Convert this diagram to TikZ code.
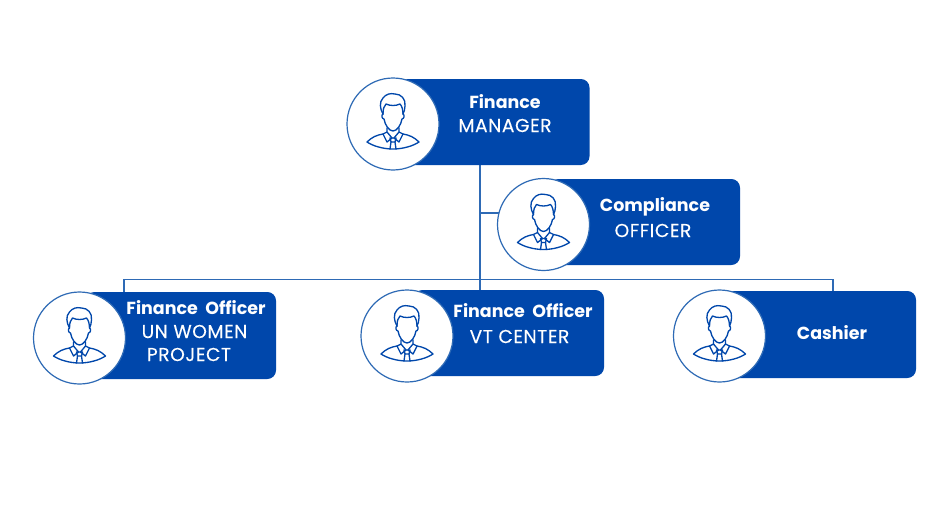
\documentclass[tikz,border=0pt]{standalone}
\usepackage{fontspec}
\newfontfamily\headfont{Poppins}[WordSpace=2.0]
\newfontfamily\bodyfont{Poppins}[LetterSpace=3,FakeBold=0.15]
\definecolor{boxblue}{RGB}{0,71,171}
\definecolor{linkblue}{RGB}{46,106,181}
\tikzset{
  x=0.75pt,y=-0.75pt,
  card/.style={fill=boxblue,rounded corners=6.5pt,inner sep=0pt,outer sep=0pt,draw=none},
  disc/.style={circle,draw=linkblue,line width=0.9pt,fill=white,minimum size=69pt,inner sep=0pt,outer sep=0pt},
  link/.style={draw=linkblue,line width=0.8pt},
  headtext/.style={text=white,font=\headfont\bfseries\fontsize{13.1}{15}\selectfont,inner sep=0pt,anchor=center},
  bodytext/.style={text=white,font=\bodyfont\fontsize{14}{16}\selectfont,inner sep=0pt,anchor=center},
  person/.pic={
    \begin{scope}[draw=boxblue,line width=1pt,line join=round,line cap=round]
    % hair
    \draw (-10,-10) .. controls (-13,-15) and (-14,-22) .. (-10,-26)
       .. controls (-7,-30) and (-3,-31) .. (2,-30)
       .. controls (8,-30) and (13,-25) .. (12,-18)
       .. controls (12,-15) and (11,-12) .. (10,-10);
    % hairline
    \draw (-10,-10) .. controls (-10,-15) and (-9,-18) .. (-7,-20)
       .. controls (-3,-18) and (3,-18) .. (7,-20)
       .. controls (9,-18) and (10,-14) .. (10,-10);
    % face
    \draw (-10,-10) .. controls (-12,-9) and (-11,-5) .. (-9,-5)
       .. controls (-8,1) and (-4,7) .. (0,7)
       .. controls (4,7) and (8,1) .. (9,-5)
       .. controls (11,-5) and (12,-9) .. (10,-10);
    % neck and collar
    \draw (-6,4) -- (-6,8) -- (-1,14) -- (-6,18) -- (-10,10) -- (-6,8);
    \draw (6,4) -- (6,8) -- (1,14) -- (6,18) -- (10,10) -- (6,8);
    % shoulders
    \draw (-10,10) .. controls (-16,11) and (-21,13) .. (-26,18)
       .. controls (-20,22) and (-10,25) .. (0,25)
       .. controls (10,25) and (20,22) .. (26,18)
       .. controls (21,13) and (16,11) .. (10,10);
    % tie
    \draw (-3,14) -- (3,14) -- (2,18) -- (-2,18) -- cycle;
    \draw (-2,18) -- (-3,25) (2,18) -- (3,25);
    \end{scope}
  }
}
\begin{document}
\begin{tikzpicture}
\useasboundingbox (0,0) rectangle (936,514);
\fill[white] (0,0) rectangle (936,514);

% connectors first, behind the cards
\coordinate (busL) at (124,279.5);
\coordinate (busR) at (833,279.5);
\coordinate (busM) at (480,279.5);
\coordinate (branch) at (480,213);
\coordinate (mgrFoot) at (480,165);
\coordinate (vtHead) at (480,290);
\coordinate (unHead) at (124,292);
\coordinate (cashHead) at (833,291);
\coordinate (compHead) at (505,213);
\draw[link] (mgrFoot) -- (vtHead);
\draw[link] (branch) -- (compHead);
\draw[link] (unHead) -- (busL) -- (busR) -- (cashHead);

% cards
\node[card,minimum width=142.5pt,minimum height=64.5pt] (mgrCard) at (494.5,122) {};
\node[card,minimum width=142.5pt,minimum height=64.5pt] (compCard) at (645,222) {};
\node[card,minimum width=142.5pt,minimum height=65.25pt] (unCard) at (181,335.5) {};
\node[card,minimum width=142.5pt,minimum height=64.5pt] (vtCard) at (509,333) {};
\node[card,minimum width=142.5pt,minimum height=65.25pt] (cashCard) at (821,334.5) {};

% discs with person icons
\node[disc] (mgrDisc) at (393,124) {};
\node[disc] (compDisc) at (543.5,224.5) {};
\node[disc] (unDisc) at (79.5,338) {};
\node[disc] (vtDisc) at (407,336) {};
\node[disc] (cashDisc) at (719.5,336) {};
\pic at (mgrDisc) {person};
\pic at (compDisc) {person};
\pic at (unDisc) {person};
\pic at (vtDisc) {person};
\pic at (cashDisc) {person};

% texts
\node[headtext] (t1) at (505,101.5) {Finance};
\node[bodytext] (t2) at (505,125.5) {MANAGER};
\node[headtext] (t3) at (655,206.5) {Compliance};
\node[bodytext] (t4) at (653,230.5) {OFFICER};
\node[headtext] (t5) at (196,307.5) {Finance Officer};
\node[bodytext] (t6) at (194.5,331.5) {UN WOMEN};
\node[bodytext] (t7) at (189,354.5) {PROJECT};
\node[headtext] (t8) at (523,310.5) {Finance Officer};
\node[bodytext] (t9) at (519.5,336.5) {VT CENTER};
\node[headtext] (t10) at (832,332.5) {Cashier};
\end{tikzpicture}
\end{document}
